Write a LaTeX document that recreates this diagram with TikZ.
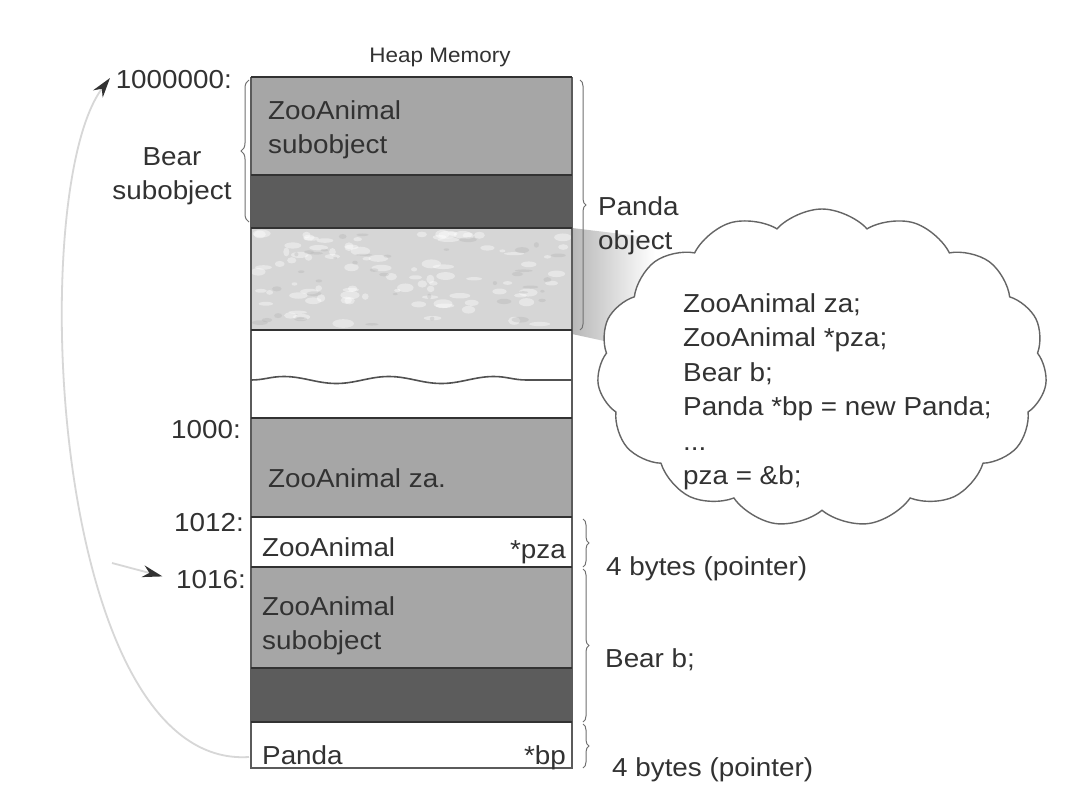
\documentclass[tikz,border=0pt]{standalone}
\usepackage{fontspec}
\setmainfont{Liberation Sans}[FakeStretch=1.07]
\usetikzlibrary{shapes.symbols,decorations.pathmorphing,decorations.pathreplacing,arrows.meta}
\definecolor{bandmid}{RGB}{166,166,166}
\definecolor{banddark}{RGB}{92,92,92}
\definecolor{bandlight}{RGB}{214,214,214}
\definecolor{inkc}{RGB}{50,50,50}
\definecolor{arcc}{RGB}{215,215,215}
\begin{document}
\begin{tikzpicture}[x=1pt,y=-1pt,
  lbl/.style={font=\fontsize{26}{34}\selectfont, text=inkc, inner sep=0pt},
  sepline/.style={line width=2.6pt, draw=inkc},
  sideline/.style={line width=1.3pt, draw=inkc!80},
  bracel/.style={decorate, decoration={brace, amplitude=8pt}, line width=1pt, draw=inkc!70},
  bracer/.style={decorate, decoration={brace, amplitude=6pt}, line width=1pt, draw=inkc!70},
  arcline/.style={line width=1.8pt, draw=arcc},
  tipdark/.style={-{Stealth[length=20pt,width=12pt,color=inkc]}}
]
\useasboundingbox[fill=white] (0,0) rectangle (1072,790);

% shadow between column and cloud
\shade[left color=black!28, right color=white] (572,228) -- (655,238) -- (655,352) -- (572,334) -- cycle;

% bands
\fill[bandmid] (251,77) rectangle (572,175);
\fill[banddark] (251,175) rectangle (572,228);
\fill[bandlight] (251,228) rectangle (572,330);
\pgfmathsetseed{11}
\foreach \i in {1,...,90} {
  \fill[white,opacity=0.4] ({256+rnd*310},{233+rnd*92}) ellipse ({3+rnd*8} and {1.5+rnd*3});
}
\foreach \i in {1,...,40} {
  \fill[black!35,opacity=0.25] ({256+rnd*310},{233+rnd*92}) ellipse ({2+rnd*7} and {1+rnd*2});
}
\fill[bandmid] (251,418) rectangle (572,517);
\fill[bandmid] (251,567) rectangle (572,668);
\fill[banddark] (251,668) rectangle (572,722);

% column outline and separators
\draw[sideline] (251,77) -- (251,768) -- (572,768) -- (572,77);
\foreach \yy in {77,175,228,330,418,517,567,668,722}
  \draw[sepline] (251,\yy) -- (572,\yy);
\draw[line width=1.6pt, draw=inkc!85, decorate,
      decoration={snake, amplitude=3.5pt, segment length=105pt}] (251,380) -- (572,380);

% texts in column
\node[lbl, font=\fontsize{21}{26}\selectfont] (heap) at (440,57) {Heap Memory};
\node[lbl, anchor=west, align=left] (zsub1) at (268,130) {ZooAnimal\\subobject};
\node[lbl, anchor=west] (zza) at (268,478) {ZooAnimal za.};
\node[lbl, anchor=base west] (zpza) at (262,556) {ZooAnimal};
\node[lbl, anchor=base east] (pza) at (566,558) {*pza};
\node[lbl, anchor=west, align=left] (zsub2) at (262,626) {ZooAnimal\\subobject};
\node[lbl, anchor=base west] (pbp) at (262,764) {Panda};
\node[lbl, anchor=base east] (bp) at (566,764) {*bp};

% addresses
\node[lbl, anchor=east] (a1000000) at (232,80) {1000000:};
\node[lbl, anchor=east] (a1000) at (241,430) {1000:};
\node[lbl, anchor=east] (a1012) at (244,523) {1012:};
\node[lbl, anchor=east] (a1016) at (246,580) {1016:};

% left brace and label
\draw[bracel] (249,222) -- (249,80);
\node[lbl, align=center] (bearsub) at (172,176) {Bear\\subobject};

% right braces and labels
\draw[bracer] (580,80) -- (580,330);
\node[lbl, anchor=west, align=left] (pandaobj) at (598,226) {Panda\\object};
\draw[bracer] (583,519) -- (583,567);
\node[lbl, anchor=west] (ptr1) at (606,569) {4 bytes (pointer)};
\draw[bracer] (583,569) -- (583,722);
\node[lbl, anchor=west] (bearb) at (605,660) {Bear b;};
\draw[bracer] (583,724) -- (583,768);
\node[lbl, anchor=west] (ptr2) at (612,770) {4 bytes (pointer)};

% cloud
\node[cloud, cloud puffs=15, cloud puff arc=95, aspect=1.45,
      minimum width=450pt, minimum height=318pt, inner sep=0pt,
      draw=inkc!75, line width=1.4pt, fill=white] (cloud) at (822,368) {};
\node[lbl, anchor=north west, align=left, font=\fontsize{26}{34.5}\selectfont]
  (code) at (683,293) {ZooAnimal za;\\ZooAnimal *pza;\\Bear b;\\Panda *bp = new Panda;\\...\\pza = \&b;};

% pointer arcs
\coordinate (bpstart) at (249,757);
\coordinate (toptip) at (110,78);
\draw[arcline, tipdark] (bpstart) .. controls (50,770) and (25,190) .. (toptip);
\coordinate (pzatail) at (112,563);
\draw[arcline, tipdark, shorten >=14pt] (pzatail) -- (a1016.west);
\end{tikzpicture}
\end{document}
